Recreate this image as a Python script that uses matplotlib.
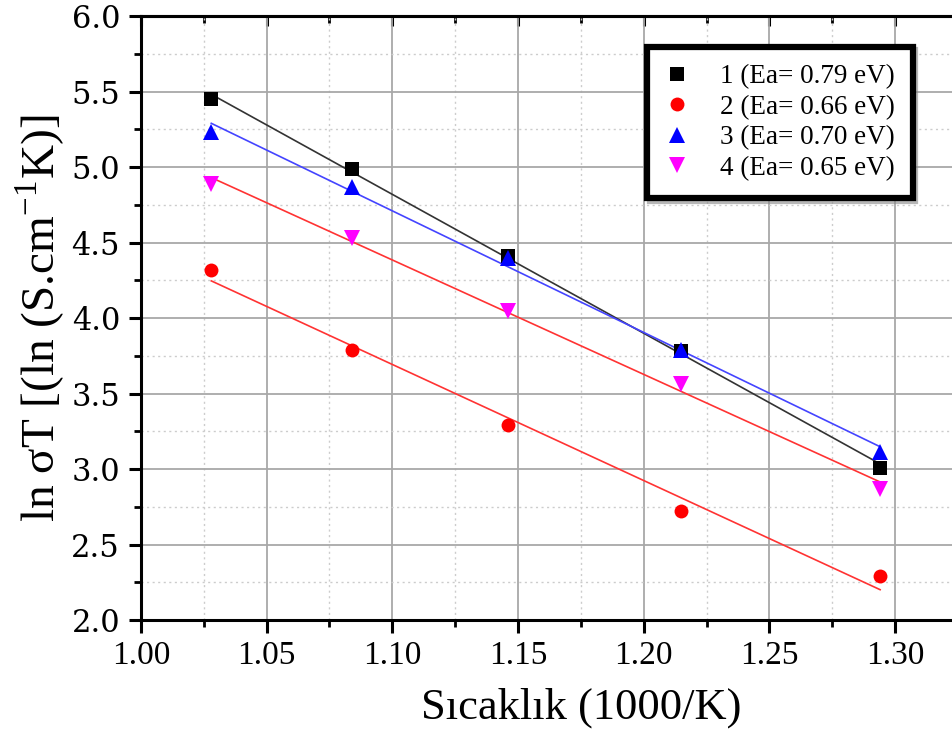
import numpy as np
import matplotlib
matplotlib.use("Agg")
import matplotlib.pyplot as plt
from matplotlib.ticker import MultipleLocator, FixedLocator, FormatStrFormatter, NullFormatter

plt.rcParams['font.family'] = ['Liberation Serif', 'DejaVu Serif']
plt.rcParams['mathtext.fontset'] = 'custom'
plt.rcParams['mathtext.rm'] = 'Liberation Serif'

x = [1.028, 1.084, 1.146, 1.215, 1.294]
s1 = [5.45, 4.99, 4.41, 3.78, 3.01]
s2 = [4.32, 3.79, 3.29, 2.72, 2.29]
s3 = [5.23, 4.87, 4.40, 3.79, 3.11]
s4 = [4.89, 4.53, 4.05, 3.56, 2.87]
labels = ["1 (Ea= 0.79 eV)", "2 (Ea= 0.66 eV)", "3 (Ea= 0.70 eV)", "4 (Ea= 0.65 eV)"]
xticks = [1.00, 1.05, 1.10, 1.15, 1.20, 1.25, 1.30]

fig = plt.figure(figsize=(9.52, 7.36), dpi=100)
ax = fig.add_axes([0.148, 0.1576, 0.9244, 0.8205])

ax.set_xlim(1.0, 1.35)
ax.set_ylim(2.0, 6.0)

ax.xaxis.set_major_locator(FixedLocator(xticks))
ax.xaxis.set_minor_locator(MultipleLocator(0.025))
ax.yaxis.set_major_locator(MultipleLocator(0.5))
ax.yaxis.set_minor_locator(MultipleLocator(0.25))
ax.xaxis.set_major_formatter(FormatStrFormatter('%.2f'))
ax.yaxis.set_major_formatter(FormatStrFormatter('%.1f'))

ax.grid(which='major', color='#a8a8a8', lw=1.3, ls='-')
ax.grid(which='minor', color='#cccccc', lw=1.0, ls=(0, (1.5, 2.5)))
ax.set_axisbelow(True)

series = [s1, s2, s3, s4]
mcolors = ['black', 'red', 'blue', '#ff00ff']
lcolors = ['#333333', '#ff3333', '#4444ff', '#ff3333']
markers = ['s', 'o', '^', 'v']
msizes = [10, 10, 11.5, 11.5]
xa = np.array(x)
for s, mc, lc, m, ms, lab in zip(series, mcolors, lcolors, markers, msizes, labels):
    ya = np.array(s)
    k, b = np.polyfit(xa, ya, 1)
    xf = np.array([xa.min(), xa.max()])
    ax.plot(xf, k * xf + b, color=lc, lw=1.2, zorder=2)
    ax.plot(xa, ya, ls='none', marker=m, color=mc, ms=ms, label=lab, zorder=3, markeredgewidth=0)

for sp in ax.spines.values():
    sp.set_linewidth(2.2)

ax.tick_params(axis='both', which='major', width=2.2, length=9, direction='out', pad=6)
ax.tick_params(axis='both', which='minor', width=2.0, length=5, direction='out')
ax.tick_params(axis='x', which='major', labelsize=24)
ax.tick_params(axis='y', which='major', labelsize=22)

# top ticks pointing inward
sec = ax.secondary_xaxis('top')
sec.xaxis.set_major_locator(FixedLocator(xticks))
sec.xaxis.set_minor_locator(MultipleLocator(0.025))
sec.xaxis.set_major_formatter(NullFormatter())
sec.tick_params(which='major', direction='in', length=7, width=2.2)
sec.tick_params(which='minor', direction='in', length=5, width=2.0)
sec.spines['top'].set_linewidth(2.2)

ax.set_xlabel('Sıcaklık (1000/K)', fontsize=32, labelpad=12)
ax.set_ylabel(r'ln σT [(ln (S.cm$^{\mathrm{-1}}$K)]', fontsize=34, labelpad=3)

leg = ax.legend(loc='upper right', bbox_to_anchor=(0.877, 0.949), borderaxespad=0,
                fontsize=19.5, frameon=True, fancybox=False, handlelength=0.9,
                handletextpad=1.15, labelspacing=0.2, borderpad=0.65,
                shadow={'color': '#888888', 'alpha': 0.6})
leg.get_frame().set_edgecolor('black')
leg.get_frame().set_linewidth(4.5)

fig.canvas.draw()
for tick in ax.yaxis.get_major_ticks():
    tick.label1.set_fontfamily('DejaVu Serif')

fig.savefig('out.png', dpi=100)
